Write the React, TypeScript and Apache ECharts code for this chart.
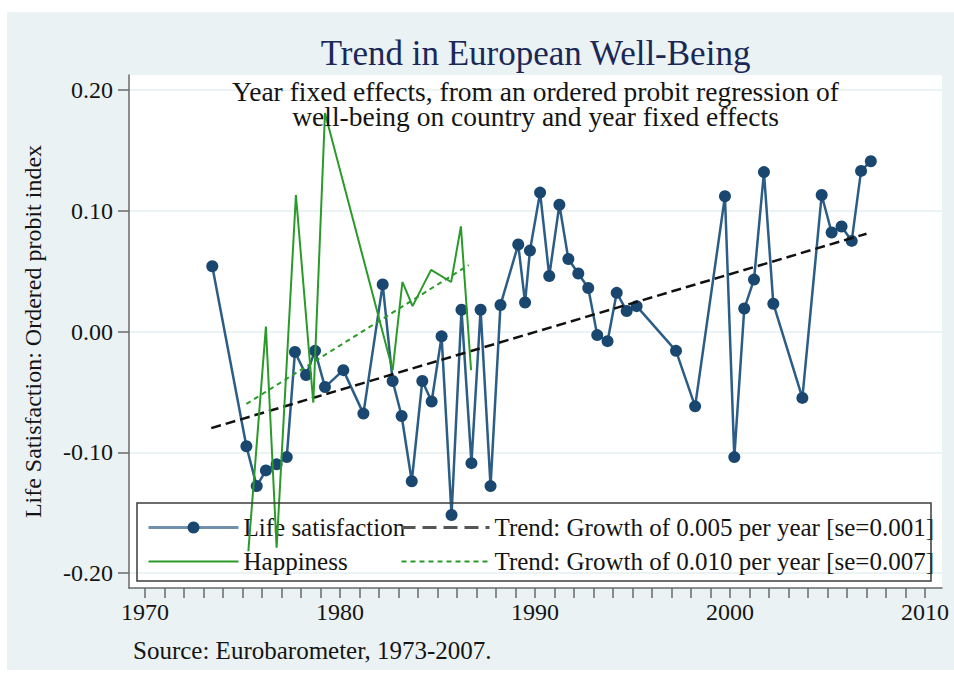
import React, { useEffect, useRef } from 'react';
import * as echarts from 'echarts';

const FONT = '"Liberation Serif", "Times New Roman", serif';

const titleText = 'Trend in European Well-Being';
const subtitleLines = [
  'Year fixed effects, from an ordered probit regression of',
  'well-being on country and year fixed effects',
];
const sourceText = 'Source: Eurobarometer, 1973-2007.';
const yAxisName = 'Life Satisfaction: Ordered probit index';

const lsName = 'Life satisfaction';
const hapName = 'Happiness';
const trend1Name = 'Trend: Growth of 0.005 per year [se=0.001]';
const trend2Name = 'Trend: Growth of 0.010 per year [se=0.007]';

const lsYears = [
  1973.45, 1975.2, 1975.73, 1976.2, 1976.75, 1977.27, 1977.69, 1978.26, 1978.72, 1979.23,
  1980.17, 1981.2, 1982.19, 1982.7, 1983.16, 1983.68, 1984.22, 1984.7, 1985.21, 1985.72,
  1986.23, 1986.74, 1987.21, 1987.72, 1988.23, 1989.14, 1989.49, 1989.74, 1990.26, 1990.73,
  1991.25, 1991.71, 1992.22, 1992.73, 1993.19, 1993.72, 1994.19, 1994.7, 1995.21, 1997.23,
  1998.21, 1999.74, 2000.22, 2000.73, 2001.23, 2001.74, 2002.22, 2003.71, 2004.7, 2005.21,
  2005.72, 2006.24, 2006.72, 2007.22,
];
const lsValues = [
  0.054, -0.095, -0.128, -0.115, -0.11, -0.104, -0.017, -0.036, -0.016, -0.046,
  -0.032, -0.068, 0.039, -0.041, -0.07, -0.124, -0.041, -0.058, -0.004, -0.152,
  0.018, -0.109, 0.018, -0.128, 0.022, 0.072, 0.024, 0.067, 0.115, 0.046,
  0.105, 0.06, 0.048, 0.036, -0.003, -0.008, 0.032, 0.017, 0.021, -0.016,
  -0.062, 0.112, -0.104, 0.019, 0.043, 0.132, 0.023, -0.055, 0.113, 0.082,
  0.087, 0.075, 0.133, 0.141,
];

const hapYears = [1975.3, 1976.2, 1976.75, 1977.74, 1978.63, 1979.23, 1982.7, 1983.2, 1983.72, 1984.67, 1985.7, 1986.2, 1986.72];
const hapValues = [-0.182, 0.004, -0.179, 0.113, -0.059, 0.181, -0.032, 0.041, 0.021, 0.051, 0.041, 0.087, -0.032];

const trend1Years = [1973.4, 2007.0];
const trend1Values = [-0.08, 0.081];
const trend2Years = [1975.2, 1986.6];
const trend2Values = [-0.06, 0.055];

const xLabelYears = [1970, 1980, 1990, 2000, 2010];
const xTickYears = [
  1970, 1971, 1972, 1973, 1974, 1975, 1976, 1977, 1978, 1979,
  1980, 1981, 1982, 1983, 1984, 1985, 1986, 1987, 1988, 1989,
  1990, 1991, 1992, 1993, 1994, 1995, 1996, 1997, 1998, 1999,
  2000, 2001, 2002, 2003, 2004, 2005, 2006, 2007, 2008, 2009, 2010,
];
const yTicks = [-0.2, -0.1, 0, 0.1, 0.2];

const pairs = (xs: number[], ys: number[]) => xs.map((x, i) => [x, ys[i]]);

export default function App() {
  const ref = useRef<HTMLDivElement>(null);
  useEffect(() => {
    document.body.style.margin = '0';
    const chart = echarts.init(ref.current!, undefined, { renderer: 'svg' });
    const axisColor = '#6a6a6a';
    const textColor = '#141414';
    chart.setOption({
      animation: false,
      backgroundColor: '#ffffff',
      graphic: [
        { type: 'rect', z: -1, silent: true, shape: { x: 7, y: 12, width: 947, height: 658 }, style: { fill: '#eaf2f3' } },
        { type: 'rect', z: 5, silent: true, shape: { x: 137, y: 503, width: 794, height: 78 }, style: { fill: 'none', stroke: '#3c3c3c', lineWidth: 1.5 } },
        { type: 'text', z: 5, x: 535.5, y: 53, style: { text: titleText, font: `35px ${FONT}`, fill: '#1a2858', align: 'center', verticalAlign: 'middle' } },
        { type: 'text', z: 5, x: 535.5, y: 103.5, style: { text: subtitleLines.join('\n'), font: `27.5px ${FONT}`, lineHeight: 25, fill: textColor, align: 'center', verticalAlign: 'middle' } },
        { type: 'text', z: 5, x: 133, y: 650, style: { text: sourceText, font: `25px ${FONT}`, fill: textColor, align: 'left', verticalAlign: 'middle' } },
      ],
      grid: { left: 129, right: 12, top: 75, bottom: 85, show: true, backgroundColor: '#ffffff', borderWidth: 0 },
      xAxis: {
        type: 'value', min: 1969.18, max: 2010.87,
        axisLine: { show: true, onZero: false, lineStyle: { color: axisColor, width: 1.5 } },
        axisTick: { show: true, length: 10, customValues: xTickYears, lineStyle: { color: axisColor, width: 1.5 } },
        axisLabel: { customValues: xLabelYears, margin: 12, fontSize: 24, fontFamily: FONT, color: textColor, formatter: (v: number) => String(v) },
        splitLine: { show: false },
      },
      yAxis: {
        type: 'value', min: -0.2124, max: 0.2124,
        name: yAxisName, nameLocation: 'middle', nameGap: 84, nameRotate: 90,
        nameTextStyle: { fontSize: 24, fontFamily: FONT, color: textColor },
        axisLine: { show: true, onZero: false, lineStyle: { color: axisColor, width: 1.5 } },
        axisTick: { show: true, length: 11, customValues: yTicks, lineStyle: { color: axisColor, width: 1.5 } },
        axisLabel: { customValues: yTicks, margin: 16, fontSize: 24, fontFamily: FONT, color: textColor, formatter: (v: number) => v.toFixed(2) },
        splitLine: { show: true, lineStyle: { color: '#e6eff1', width: 1.5 } },
      },
      legend: [
        {
          orient: 'vertical', left: 147, top: 515, padding: 0, itemWidth: 90, itemHeight: 15, itemGap: 9,
          selectedMode: false, textStyle: { fontSize: 25, fontFamily: FONT, color: textColor },
          data: [
            { name: lsName, lineStyle: { color: '#7090ae', width: 3 } },
            { name: hapName, itemStyle: { opacity: 0 } },
          ],
        },
        {
          orient: 'vertical', left: 400, top: 515, padding: 0, itemWidth: 88, itemHeight: 15, itemGap: 9,
          selectedMode: false, textStyle: { fontSize: 25, fontFamily: FONT, color: textColor },
          data: [
            { name: trend1Name, itemStyle: { opacity: 0 }, lineStyle: { color: '#555555', type: [14, 7], width: 3 } },
            { name: trend2Name, itemStyle: { opacity: 0 } },
          ],
        },
      ],
      series: [
        {
          name: lsName, type: 'line', data: pairs(lsYears, lsValues), silent: true, z: 3,
          symbol: 'circle', symbolSize: 12, showSymbol: true,
          color: '#1a476f',
          lineStyle: { color: '#2c5d86', width: 2.5 },
          itemStyle: { color: '#1a476f' },
        },
        {
          name: trend1Name, type: 'line', data: pairs(trend1Years, trend1Values), silent: true, z: 4,
          symbol: 'none', color: '#111111',
          lineStyle: { color: '#111111', width: 2.5, type: [10, 5] },
        },
        {
          name: hapName, type: 'line', data: pairs(hapYears, hapValues), silent: true, z: 4,
          symbol: 'none', color: '#2a9a2a',
          lineStyle: { color: '#2a9a2a', width: 2 },
        },
        {
          name: trend2Name, type: 'line', data: pairs(trend2Years, trend2Values), silent: true, z: 4,
          symbol: 'none', color: '#2a9a2a',
          lineStyle: { color: '#2a9a2a', width: 2, type: [5, 4] },
        },
      ],
    });
    return () => chart.dispose();
  }, []);
  return <div ref={ref} style={{ width: 954, height: 673 }} />;
}
